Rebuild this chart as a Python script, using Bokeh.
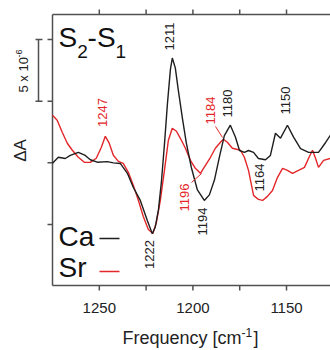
from math import pi
from bokeh.plotting import figure
from bokeh.models import Range1d, Label
from bokeh.embed import file_html
from bokeh.resources import INLINE

# ---------------- data ----------------
ca_freq = [1275.0, 1271.9, 1268.2, 1265.5, 1261.2, 1257.5, 1254.8, 1251.1, 1245.7, 1242.5,
           1238.8, 1235.0, 1231.8, 1228.1, 1224.3, 1221.7, 1220.1, 1218.4, 1216.8, 1215.2,
           1213.6, 1212.0, 1211.0, 1209.4, 1207.8, 1205.6, 1203.5, 1200.8, 1197.6, 1193.9,
           1191.2, 1188.5, 1185.8, 1183.2, 1180.0, 1177.3, 1175.1, 1172.5, 1170.3, 1167.6,
           1165.0, 1161.2, 1158.6, 1155.9, 1153.2, 1149.5, 1146.3, 1142.5, 1138.2, 1132.9,
           1129.1, 1126.5]
ca_dA = [-0.04, 0.45, 0.35, 0.6, 0.85, 0.6, 0.25, 0.05, 0.1, 0.0,
         -0.05, -0.85, -2.0, -3.05, -4.7, -5.75, -5.2, -3.8, -1.5, 1.5,
         4.8, 7.6, 8.5, 7.7, 5.9, 3.6, 1.6, -0.4, -2.2, -3.05,
         -2.6, -1.4, 0.5, 2.2, 3.05, 2.1, 1.0, 0.85, 1.0, 0.85,
         0.35, 0.25, 0.6, 2.4, 2.0, 3.05, 2.1, 1.15, 0.85, 0.85,
         1.65, 2.25]

sr_freq = [1275.0, 1272.5, 1269.8, 1267.1, 1264.4, 1261.2, 1258.0, 1254.8, 1251.6, 1248.9,
           1246.8, 1244.7, 1242.5, 1239.8, 1237.2, 1234.5, 1231.8, 1229.1, 1226.5, 1223.8,
           1221.4, 1219.5, 1217.4, 1215.2, 1213.1, 1211.0, 1208.8, 1206.7, 1204.0, 1201.3,
           1198.7, 1196.0, 1193.3, 1190.6, 1188.0, 1185.3, 1183.7, 1181.6, 1178.9, 1174.6,
           1172.5, 1170.3, 1167.6, 1165.0, 1162.8, 1160.2, 1157.5, 1154.8, 1152.1, 1149.5,
           1146.8, 1143.6, 1140.4, 1137.7, 1136.1, 1134.5, 1132.9, 1130.2, 1126.5]
sr_dA = [3.86, 3.46, 2.48, 1.59, 1.02, 0.45, 0.04, 0.04, 0.37, 1.26,
         2.15, 1.59, 0.61, 0.12, -0.04, -0.77, -1.83, -3.05, -4.35, -5.41,
         -5.73, -4.84, -3.05, -0.61, 1.83, 2.8, 2.56, 1.99, 1.18, 0.2,
         -0.45, -0.85, -0.2, 0.45, 1.18, 1.67, 1.91, 1.67, 1.18, 1.02,
         0.45, -0.61, -2.64, -2.97, -3.05, -2.72, -2.24, -1.18, -0.45, -0.61,
         -0.85, -0.61, -0.37, 0.53, 1.02, 0.37, -0.37, 0.2, 0.37]

x_ticks = [1250, 1225, 1200, 1175, 1150]
x_tick_labels = ["1250", "", "1200", "", "1150"]
y_ticks = [-5, 0, 5, 10]
scale_lo, scale_hi = 5, 10          # scale bar: 5 x 10^-6
ca_labels = ["1211", "1180", "1150", "1164", "1194", "1222"]
sr_labels = ["1247", "1184", "1196"]

# axis extents (data units)
AX_L, AX_R = 1275.0, 1126.5
AX_B, AX_T = -9.95, 12.03

# ---------------- layout ----------------
FONT = "Liberation Sans"
BLACK = "#1e1e1e"
RED = "#e3262a"
AXC = "#505050"
TXT = "#222222"

# the frame fills the whole canvas (picture x 0..330, y 0..350)
W, H = 330, 350
SX = (AX_R - AX_L) / (330.0 - 52.0)      # data per picture px
SY = (AX_B - AX_T) / (285.0 - 14.0)
XL = AX_L + (0 - 52.0) * SX
XR = AX_L + (W - 52.0) * SX
YT = AX_T + (0 - 14.0) * SY
YB = AX_T + (H - 14.0) * SY

def fx(px):
    return AX_L + (px - 52.0) * SX

def fy(py):
    return AX_T + (py - 14.0) * SY

p = figure(width=W, height=H, x_range=Range1d(XL, XR), y_range=Range1d(YB, YT),
           output_backend="svg", toolbar_location=None,
           x_axis_type=None, y_axis_type=None,
           min_border=0, min_border_left=0, min_border_right=0,
           min_border_top=0, min_border_bottom=0)
p.outline_line_color = None
p.background_fill_color = "white"
p.border_fill_color = "white"

K_ALPHA = 0.34   # empirical baseline correction (fraction of font size)
K_MID = 0.22

def lab(text, px, py, size, color=TXT, angle=0.0, align="left", baseline="alphabetic"):
    s = float(size.replace("px", ""))
    if angle == 0.0:
        py = py - (K_ALPHA if baseline == "alphabetic" else K_MID) * s
    else:
        px = px - (K_ALPHA if baseline == "alphabetic" else K_MID) * s
    p.add_layout(Label(x=fx(px), y=fy(py), text=text, text_font=FONT, text_font_size=size,
                       text_color=color, angle=angle, text_align=align, text_baseline=baseline))

# ---- axes (frame lines, ticks, tick labels) ----
tick = 5.0
p.segment(x0=[AX_L, AX_L, AX_L], x1=[AX_L, AX_R, AX_R],
          y0=[AX_B, AX_B, AX_T], y1=[AX_T, AX_B, AX_T],
          line_color=AXC, line_width=1.5)
p.segment(x0=x_ticks, x1=x_ticks, y0=[AX_B] * len(x_ticks),
          y1=[AX_B + tick * SY] * len(x_ticks), line_color=AXC, line_width=1.5)
p.segment(x0=x_ticks, x1=x_ticks, y0=[AX_T] * len(x_ticks),
          y1=[AX_T - tick * SY] * len(x_ticks), line_color=AXC, line_width=1.5)
p.segment(x0=[AX_L] * len(y_ticks), x1=[AX_L - tick * SX] * len(y_ticks),
          y0=y_ticks, y1=y_ticks, line_color=AXC, line_width=1.5)
for v, t in zip(x_ticks, x_tick_labels):
    if t:
        s = 15.0
        p.add_layout(Label(x=v, y=fy(313 - K_ALPHA * s), text=t, text_font=FONT,
                           text_font_size="15px", text_color=TXT,
                           text_align="center", text_baseline="alphabetic"))

# curves
p.line(sr_freq, sr_dA, line_color=RED, line_width=1.4)
p.line(ca_freq, ca_dA, line_color=BLACK, line_width=1.4)

# scale bar (5 x 10^-6)
bx = fx(38)
p.segment(x0=[bx, fx(35), fx(35)], x1=[bx, fx(42), fx(42)],
          y0=[scale_lo, scale_lo, scale_hi], y1=[scale_hi, scale_lo, scale_hi],
          line_color=AXC, line_width=1.5)

# scale bar text (rotated) and delta A
lab("5 x 10", 26, 92, "13px", TXT, pi / 2, "left", "middle")
lab("-6", 20, 57, "9px", TXT, pi / 2, "left", "middle")
lab("ΔA", 24, 150, "17px", TXT, pi / 2, "center", "middle")

# title S2-S1
lab("S", 58, 47, "28px", "#111111")
lab("2", 76.7, 57, "19px", "#111111")
lab("-", 87, 47, "28px", "#111111")
lab("S", 96.5, 47, "28px", "#111111")
lab("1", 115, 57, "19px", "#111111")

# legend
lab("Ca", 58, 246, "28px", "#111111")
lab("Sr", 58, 277, "28px", "#111111")
p.segment(x0=[fx(99)], x1=[fx(119)], y0=[fy(238)], y1=[fy(238)], line_color=BLACK, line_width=1.4)
p.segment(x0=[fx(99)], x1=[fx(119)], y0=[fy(271)], y1=[fy(271)], line_color=RED, line_width=1.4)

# x axis label
lab("Frequency [cm", 122, 344, "18px")
lab("-1", 241, 336, "12px")
lab("]", 253, 344, "18px")

# peak labels (rotated)
ca_pos = [(172, 36), (230, 103), (288, 100), (262, 177), (205, 221), (152, 254)]
for t, (px, py) in zip(ca_labels, ca_pos):
    lab(t, px, py, "13px", TXT, pi / 2, "center", "middle")
sr_pos = [(105, 112), (213, 110), (187, 197)]
for t, (px, py) in zip(sr_labels, sr_pos):
    lab(t, px, py, "13px", RED, pi / 2, "center", "middle")

# leader lines for 1184 and 1196
p.segment(x0=[fx(215), fx(191)], x1=[fx(222), fx(201)], y0=[fy(126), fy(182)], y1=[fy(137), fy(173)],
          line_color=RED, line_width=1.0)

open("out.html", "w").write(file_html(p, INLINE))
